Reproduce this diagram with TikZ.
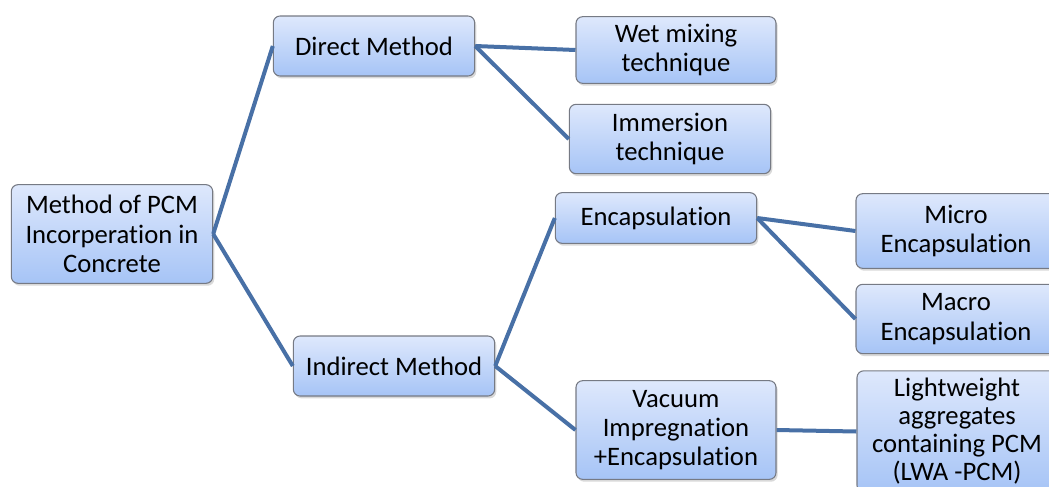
\documentclass[tikz,border=0pt]{standalone}
\usepackage{fontspec}
\setmainfont{Carlito}[Ligatures={NoCommon}]
\usetikzlibrary{shadows}
\definecolor{boxtop}{RGB}{222,232,252}
\definecolor{boxbot}{RGB}{166,196,246}
\definecolor{boxline}{RGB}{118,122,132}
\definecolor{linkblue}{RGB}{72,112,166}
\begin{document}
\begin{tikzpicture}[x=0.75pt,y=-0.75pt,
boxnode/.style={rectangle, rounded corners=5pt, draw=boxline, line width=0.8pt, top color=boxtop, bottom color=boxbot, align=center, inner sep=2pt, minimum width=151pt, font=\fontsize{20}{22}\selectfont, drop shadow={shadow xshift=1.2pt, shadow yshift=-1.8pt, opacity=0.3}},
link/.style={draw=linkblue, line width=3pt}
]
    \useasboundingbox (0,0) rectangle (1049,486);

    \node[boxnode, minimum height=74pt] (meth) at (112,234) {Method of PCM\\Incorperation in\\Concrete};

    \node[boxnode, minimum height=45pt] (direct) at (374,46) {Direct Method};
    \node[boxnode, minimum height=45pt] (indirect) at (394,366) {Indirect Method};

    \node[boxnode, minimum height=50pt, minimum width=150pt] (wet) at (676,50) {Wet mixing\\technique};
    \node[boxnode, minimum height=52pt] (immer) at (670,139) {Immersion\\technique};
    \node[boxnode, minimum height=38pt] (encap) at (656,218) {Encapsulation};
    \node[boxnode, minimum height=74pt, minimum width=150pt] (vacuum) at (676,430) {Vacuum\\Impregnation\\+Encapsulation};

    \node[boxnode, minimum height=56pt, minimum width=150pt] (micro) at (956,231) {Micro\\Encapsulation};
    \node[boxnode, minimum height=52pt, minimum width=150pt] (macro) at (956,319) {Macro\\Encapsulation};
    \node[boxnode, minimum height=91pt, minimum width=150pt, font=\fontsize{20}{21}\selectfont] (lwa) at (957,431.5) {Lightweight\\aggregates\\containing PCM\\(LWA -PCM)};

    \draw[link] (meth.east) -- (direct.west);
    \draw[link] (meth.east) -- (indirect.west);

    \draw[link] (direct.east) -- (wet.west);
    \draw[link] (direct.east) -- (immer.west);

    \draw[link] (indirect.east) -- (encap.west);
    \draw[link] (indirect.east) -- (vacuum.west);

    \draw[link] (encap.east) -- (micro.west);
    \draw[link] (encap.east) -- (macro.west);
    \draw[link] (vacuum.east) -- (lwa.west);
\end{tikzpicture}
\end{document}
